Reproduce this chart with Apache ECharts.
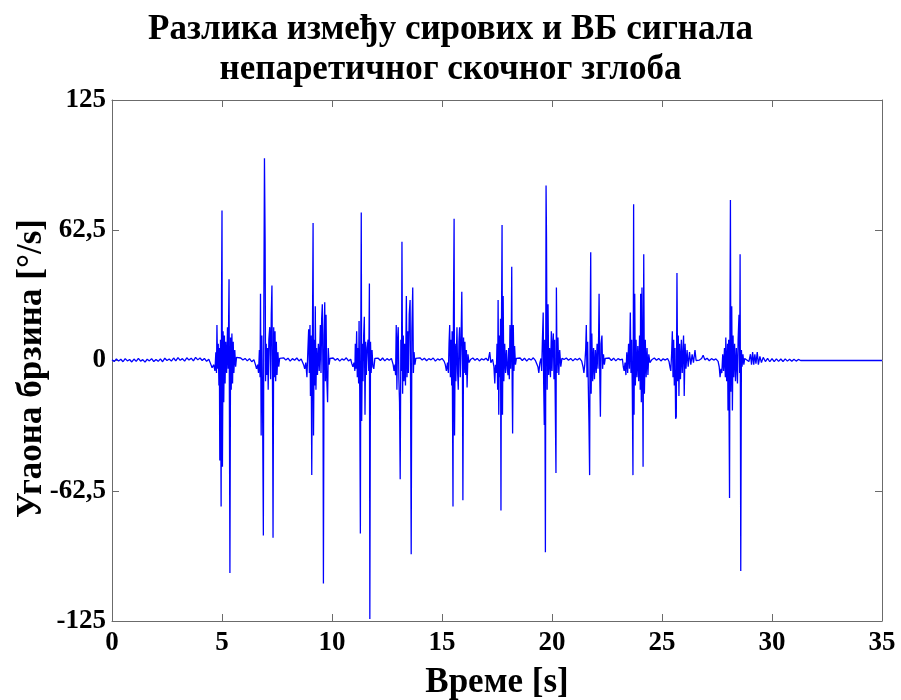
<!DOCTYPE html>
<html>
<head>
<meta charset="utf-8">
<script src="https://cdn.jsdelivr.net/npm/echarts@6/dist/echarts.min.js"></script>
<style>
  html, body { margin: 0; padding: 0; background: #fff; }
  #chart { width: 901px; height: 700px; }
</style>
</head>
<body>
<div id="chart"></div>
<script>
// Difference between raw and filtered ankle angular velocity, [time s, deg/s]
var rest0 = [[0,0.4],[0.1,-0.5],[0.2,0.8],[0.3,-0.3],[0.4,0.6],[0.5,-0.6],[0.6,0.9],[0.7,-0.2],[0.8,0.5],[0.9,-0.7],[1.0,0.7],[1.1,-0.4],[1.2,1.0],[1.3,-0.3],[1.4,0.4],[1.5,-0.8],[1.6,0.6],[1.7,-0.2],[1.8,0.9],[1.9,-0.5],[2.0,0.5],[2.1,-0.4],[2.2,0.8],[2.3,-0.6],[2.4,1.1],[2.5,0.0],[2.6,0.7],[2.7,-0.3],[2.8,1.2],[2.9,-0.2],[3.0,1.4],[3.1,0.1],[3.2,0.9],[3.3,-0.3],[3.4,1.3],[3.5,0.2],[3.6,1.1],[3.7,-0.2],[3.8,1.5],[3.9,0.3],[4.0,1.2],[4.1,0.0],[4.2,1.0],[4.3,-0.4],[4.4,0.6]];
var burst1 = [[4.48,-1.5],[4.55,-3.5],[4.62,-2],[4.68,-5],[4.72,4],[4.75,-6],[4.77,17],[4.80,-4],[4.83,8],[4.86,-12],[4.88,6],[4.90,-48],[4.93,10],[4.96,-70],[4.98,30],[5.00,72],[5.02,-51],[5.05,14],[5.08,-20],[5.11,12],[5.14,-11],[5.17,9],[5.21,-6],[5.25,16],[5.28,-4],[5.32,39],[5.36,-102],[5.39,11],[5.42,-14],[5.45,13],[5.48,-11],[5.51,9],[5.54,-6],[5.58,5],[5.62,-3],[5.66,1.5]];
var rest1 = [[5.75,0.6],[5.85,1.2],[5.95,0.2],[6.05,1.0],[6.15,-0.2],[6.25,0.9],[6.35,-0.6],[6.45,0.4]];
var burst2 = [[6.52,-2],[6.57,-4],[6.62,-2],[6.66,-6],[6.70,5],[6.73,-8],[6.75,32],[6.78,-36],[6.81,12],[6.84,-14],[6.88,-84],[6.90,20],[6.93,97],[6.96,57],[6.98,-10],[7.01,8],[7.04,-7],[7.07,6],[7.10,-14],[7.13,10],[7.17,16],[7.21,-9],[7.24,22],[7.27,36],[7.30,-20],[7.32,-85],[7.35,16],[7.38,-8],[7.41,14],[7.44,-10],[7.47,9],[7.50,-7],[7.54,4],[7.58,-3],[7.62,1]];
var rest2 = [[7.7,0.5],[7.8,1.3],[7.9,0.2],[8.0,1.1],[8.1,-0.3],[8.2,0.9],[8.3,0.1],[8.4,1.2],[8.5,-0.2],[8.6,0.7]];
var burst3 = [[8.71,-2],[8.76,-4],[8.81,-1],[8.86,-8],[8.90,4],[8.94,15],[8.97,-6],[9.00,17],[9.02,-17],[9.05,12],[9.08,-55],[9.11,8],[9.14,66],[9.16,-36],[9.19,10],[9.22,-12],[9.24,26],[9.27,-14],[9.30,6],[9.34,-7],[9.38,8],[9.42,-5],[9.47,17],[9.50,-6],[9.53,20],[9.56,27],[9.59,-8],[9.61,-107],[9.64,12],[9.67,28],[9.70,-10],[9.73,22],[9.76,-8],[9.80,-20],[9.83,6],[9.87,-2],[9.91,1]];
var rest3 = [[9.95,0.3],[10.05,1.2],[10.15,0.1],[10.25,1.0],[10.35,-0.3],[10.45,0.8],[10.55,0.2],[10.65,1.3],[10.75,-0.2],[10.85,0.6]];
var burst4 = [[10.90,-1.5],[10.95,-3],[11.00,-1],[11.04,-5],[11.06,8],[11.09,-4],[11.12,14],[11.15,-8],[11.18,6],[11.21,-11],[11.23,19],[11.26,-14],[11.29,-83],[11.31,12],[11.33,71],[11.35,-29],[11.38,8],[11.41,-10],[11.44,12],[11.47,21],[11.50,-26],[11.53,9],[11.56,-7],[11.60,6],[11.64,10],[11.67,-5],[11.70,37],[11.72,-124],[11.75,9],[11.78,-6],[11.82,5],[11.86,-3],[11.90,-4],[11.95,1]];
var rest4 = [[12.0,0.5],[12.1,1.1],[12.2,0.0],[12.3,1.2],[12.4,-0.2],[12.5,0.9],[12.6,0.1],[12.7,1.0]];
var burst5 = [[12.78,-2],[12.82,-5],[12.86,-2],[12.89,-7],[12.92,17],[12.95,-14],[12.98,10],[13.01,16],[13.04,-9],[13.07,-20],[13.10,-57],[13.13,10],[13.16,-5],[13.18,57],[13.21,-16],[13.24,12],[13.27,-10],[13.30,8],[13.34,-12],[13.38,31],[13.41,-8],[13.44,14],[13.47,-6],[13.51,22],[13.55,29],[13.57,-10],[13.60,-93],[13.63,14],[13.67,35],[13.70,-6],[13.73,4],[13.77,-2],[13.81,1]];
var rest5 = [[13.9,0.6],[14.0,1.3],[14.1,0.2],[14.2,1.1],[14.3,-0.1],[14.4,0.9],[14.5,0.3],[14.6,1.2],[14.7,-0.3],[14.8,0.8],[14.9,0.2],[15.0,1.0],[15.1,-0.4]];
var burst6 = [[15.15,-2],[15.20,-5],[15.25,-1],[15.29,-6],[15.32,8],[15.35,17],[15.38,-8],[15.41,10],[15.44,-12],[15.46,14],[15.50,-70],[15.52,20],[15.55,68],[15.57,-36],[15.60,8],[15.63,-10],[15.68,16],[15.71,-6],[15.74,-14],[15.77,9],[15.80,16],[15.83,-8],[15.87,12],[15.90,33],[15.93,-5],[15.95,-67],[15.98,11],[16.01,-6],[16.04,9],[16.08,-7],[16.11,5],[16.14,-13],[16.18,3],[16.23,-1]];
var rest6 = [[16.3,0.5],[16.4,1.2],[16.5,0.1],[16.6,1.0],[16.7,-0.2],[16.8,0.8],[16.9,0.3],[17.0,1.1],[17.1,-0.1],[17.17,4],[17.22,-1],[17.3,0.6]];
var burst7 = [[17.36,-3],[17.40,-11],[17.43,-2],[17.47,-6],[17.50,8],[17.53,-14],[17.55,29],[17.58,-26],[17.61,12],[17.64,-8],[17.66,20],[17.68,-72],[17.70,10],[17.73,65],[17.75,-26],[17.78,31],[17.81,-10],[17.85,8],[17.89,-6],[17.93,5],[17.97,-4],[18.00,-7],[18.03,6],[18.06,-9],[18.09,17],[18.12,-4],[18.15,10],[18.17,45],[18.19,-12],[18.21,-35],[18.24,17],[18.27,-5],[18.30,7],[18.34,-2],[18.38,1]];
var rest7 = [[18.45,0.4],[18.55,1.2],[18.65,0.0],[18.75,1.1],[18.85,-0.3],[18.95,0.9],[19.05,0.2],[19.15,1.3],[19.25,-0.1],[19.32,0.6]];
var burst8 = [[19.36,-3],[19.40,-6],[19.45,-1],[19.50,1],[19.53,-5],[19.56,8],[19.60,23],[19.62,-10],[19.65,-31],[19.67,10],[19.70,-92],[19.73,84],[19.75,59],[19.78,-14],[19.80,10],[19.82,27],[19.85,-7],[19.89,6],[19.93,-8],[19.97,14],[20.00,-5],[20.03,8],[20.06,13],[20.09,-9],[20.12,10],[20.15,-22],[20.18,-54],[20.20,35],[20.23,-6],[20.27,11],[20.31,-7],[20.35,5],[20.40,-3],[20.45,1]];
var rest8 = [[20.55,0.5],[20.65,1.2],[20.75,0.1],[20.85,1.0],[20.95,-0.2],[21.05,0.9],[21.15,0.2],[21.25,1.1],[21.35,-0.3]];
var burst9 = [[21.41,-3],[21.45,-6],[21.49,-2],[21.53,5],[21.56,17],[21.59,-8],[21.62,9],[21.65,-12],[21.68,-30],[21.71,-55],[21.73,8],[21.76,52],[21.78,-16],[21.81,13],[21.85,-10],[21.89,6],[21.93,-9],[21.97,5],[22.01,-6],[22.05,8],[22.09,-4],[22.12,12],[22.14,32],[22.17,-6],[22.20,-27],[22.23,8],[22.27,12],[22.30,-4],[22.34,3],[22.38,-2],[22.42,1]];
var rest9 = [[22.5,0.6],[22.6,1.2],[22.7,0.0],[22.8,1.1],[22.9,-0.2],[23.0,0.9],[23.1,0.3],[23.2,0.7]];
var burst10 = [[23.24,-3],[23.28,-5],[23.32,-1],[23.36,-7],[23.40,4],[23.44,-6],[23.48,8],[23.52,-4],[23.56,23],[23.59,-6],[23.62,10],[23.65,-14],[23.68,-55],[23.71,75],[23.73,-26],[23.76,32],[23.79,-12],[23.82,10],[23.86,-8],[23.90,7],[23.94,-10],[23.98,12],[24.01,-14],[24.03,32],[24.06,-20],[24.09,35],[24.12,-10],[24.14,-51],[24.17,51],[24.20,-16],[24.24,10],[24.28,-8],[24.32,6],[24.36,-7],[24.40,3],[24.45,-1]];
var rest10 = [[24.55,0.5],[24.65,1.2],[24.75,0.1],[24.85,1.0],[24.95,-0.2],[25.05,0.8],[25.15,0.2],[25.25,1.0],[25.32,-0.5]];
var burst11 = [[25.36,-3],[25.40,-5],[25.44,4],[25.47,14],[25.50,-8],[25.53,10],[25.56,-12],[25.59,6],[25.62,-28],[25.65,-27],[25.68,42],[25.71,-10],[25.74,12],[25.77,-17],[25.80,8],[25.84,-9],[25.88,10],[25.92,-6],[25.96,7],[25.98,12],[26.01,-17],[26.05,8],[26.09,-4],[26.14,5],[26.19,-3],[26.25,4],[26.31,-2],[26.37,3],[26.43,-1],[26.50,5],[26.55,0]];
var rest11 = [[26.6,0.8],[26.7,0.2],[26.8,1.0],[26.87,2.5],[26.95,0.3],[27.05,1.1],[27.15,-0.1],[27.25,0.9],[27.35,0.2],[27.45,0.8],[27.55,-0.4]];
var burst12 = [[27.60,-3],[27.64,-8],[27.68,-4],[27.72,-6],[27.76,3],[27.80,-5],[27.84,6],[27.88,-8],[27.90,11],[27.94,-10],[27.98,8],[28.00,-24],[28.03,10],[28.07,-66],[28.09,20],[28.11,77],[28.13,-15],[28.17,26],[28.20,-24],[28.23,12],[28.26,-8],[28.30,8],[28.34,-10],[28.38,6],[28.43,-11],[28.46,10],[28.50,22],[28.53,-6],[28.55,51],[28.58,-101],[28.61,5],[28.64,-3],[28.68,3],[28.72,-2],[28.76,1]];
var tail = [[28.85,0.8],[28.95,-0.5],[29.02,3],[29.07,-2],[29.12,4],[29.17,-2],[29.22,3],[29.27,-1.5],[29.33,4],[29.38,-2],[29.45,2],[29.52,-1],[29.6,1.5],[29.7,-0.5],[29.8,1],[29.9,-0.6],[30.0,0.9],[30.1,-0.5],[30.2,0.8],[30.3,-0.4],[30.4,0.7],[30.5,-0.5],[30.6,0.8],[30.7,-0.3],[30.8,0.6],[30.9,-0.4],[31.0,0.6],[31.1,-0.3],[31.2,0.5],[31.3,0],[35,0]];

var xTicks = [0, 5, 10, 15, 20, 25, 30, 35];
var yTicks = [-125, -62.5, 0, 62.5, 125];

var signal = [].concat(rest0, burst1, rest1, burst2, rest2, burst3, rest3, burst4, rest4,
  burst5, rest5, burst6, rest6, burst7, rest7, burst8, rest8, burst9, rest9, burst10,
  rest10, burst11, rest11, burst12, tail);

var serif = '"Liberation Serif", "DejaVu Serif", serif';
var boxColor = '#6b6b6b';

function frameAxis(extra) {
  var base = {
    type: 'value',
    axisLine: { show: true, onZero: false, lineStyle: { color: boxColor, width: 1 } },
    axisTick: { show: true, inside: true, length: 7, lineStyle: { color: boxColor, width: 1 } },
    splitLine: { show: false }
  };
  for (var k in extra) base[k] = extra[k];
  return base;
}

var chart = echarts.init(document.getElementById('chart'), null, { renderer: 'canvas' });
chart.setOption({
  animation: false,
  backgroundColor: '#ffffff',
  title: {
    text: 'Разлика између сирових и ВБ сигнала\nнепаретичног скочног зглоба',
    left: 'center',
    top: 5,
    textStyle: { fontFamily: serif, fontWeight: 'bold', fontSize: 35, color: '#000', lineHeight: 40 }
  },
  grid: { left: 112, right: 19, top: 100, bottom: 79, containLabel: false, outerBoundsMode: 'none' },
  xAxis: [
    frameAxis({
      position: 'bottom', min: xTicks[0], max: xTicks[xTicks.length - 1], interval: 5,
      axisLabel: { show: true, margin: 9, fontFamily: serif, fontWeight: 'bold', fontSize: 27, color: '#000' },
      name: 'Време [s]', nameLocation: 'middle', nameGap: 44, nameMoveOverlap: false,
      nameTextStyle: { fontFamily: serif, fontWeight: 'bold', fontSize: 35, color: '#000' }
    }),
    frameAxis({
      position: 'top', min: xTicks[0], max: xTicks[xTicks.length - 1], interval: 5,
      axisLabel: { show: false }
    })
  ],
  yAxis: [
    frameAxis({
      position: 'left', min: yTicks[0], max: yTicks[yTicks.length - 1], interval: 62.5,
      axisLabel: {
        show: true, margin: 6, fontFamily: serif, fontWeight: 'bold', fontSize: 27, color: '#000',
        formatter: function (v) { return String(v).replace('.', ','); }
      },
      name: 'Угаона брзина [°/s]', nameLocation: 'middle', nameGap: 63, nameRotate: 90,
      nameMoveOverlap: false,
      nameTextStyle: { fontFamily: serif, fontWeight: 'bold', fontSize: 35, color: '#000', padding: [0, 16, 0, 0] }
    }),
    frameAxis({
      position: 'right', min: yTicks[0], max: yTicks[yTicks.length - 1], interval: 62.5,
      axisLabel: { show: false }
    })
  ],
  series: [{
    type: 'line',
    data: signal,
    xAxisIndex: 0,
    yAxisIndex: 0,
    showSymbol: false,
    symbol: 'none',
    sampling: null,
    clip: true,
    lineStyle: { color: '#0000ff', width: 1.3 },
    itemStyle: { color: '#0000ff' },
    z: 1
  }]
});
</script>
</body>
</html>
